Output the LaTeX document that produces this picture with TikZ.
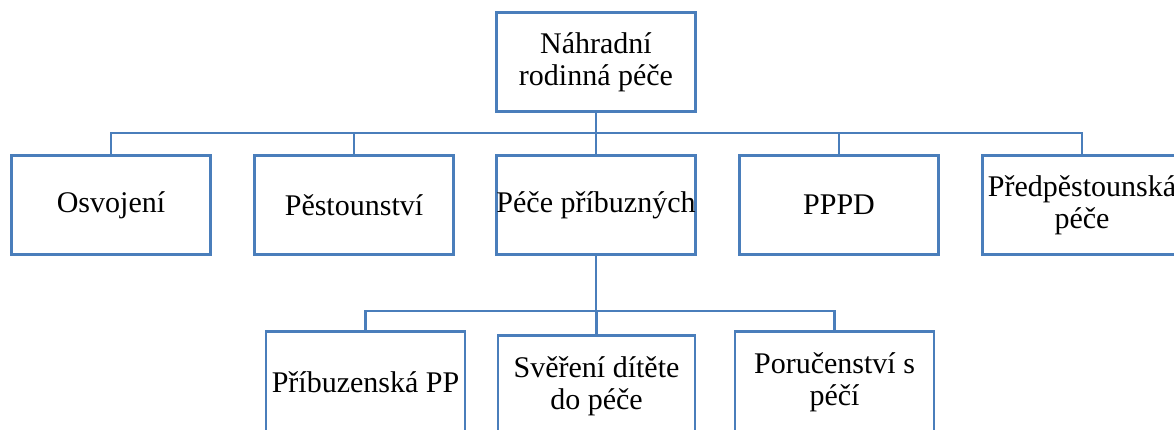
\documentclass[tikz,border=0pt]{standalone}
\usepackage{fontspec}
\setmainfont{Liberation Serif}
\newfontfamily\boxfont{Liberation Serif}
\definecolor{boxblue}{HTML}{4A7EBB}
\begin{document}
\begin{tikzpicture}[x=1pt,y=-1pt,
  orgbox/.style={draw=boxblue, line width=2.8pt, fill=white, rectangle,
    minimum width=199pt, minimum height=99pt, inner sep=0pt, align=center,
    font=\boxfont\fontsize{30}{32}\selectfont},
  conn/.style={draw=boxblue, line width=2.8pt}]
\useasboundingbox (0,0) rectangle (1174,429);
\fill[white] (0,0) rectangle (1174,429);
% top
\node[orgbox] (top) at (596,62) {Náhradní\\rodinná péče};
% middle row
\node[orgbox] (osv) at (111,205) {Osvojení};
\node[orgbox] (pest) at (354,205) {Pěstounství};
\node[orgbox] (pece) at (596,205) {Péče příbuzných};
\node[orgbox] (pppd) at (839,205) {PPPD};
\node[orgbox] (pred) at (1082,205) {Předpěstounská\\péče};
% bottom row
\node[orgbox, minimum height=101pt] (pribpp) at (365.5,382) {Příbuzenská PP};
\node[orgbox, minimum width=197pt, minimum height=101pt] (sver) at (596.5,386) {Svěření dítěte\\do péče};
\node[orgbox, minimum height=101pt] (poruc) at (834.5,382) {Poručenství s\\péčí};
% connectors
\coordinate (j1) at (596,133);
\draw[conn] (top.south) -- (j1);
\foreach \c in {osv,pest,pece,pppd,pred} \draw[conn] (j1) -| (\c.north);
\coordinate (j2) at (596,311);
\draw[conn] (pece.south) -- (j2);
\foreach \c in {pribpp,sver,poruc} \draw[conn] (j2) -| (\c.north);
\end{tikzpicture}
\end{document}
